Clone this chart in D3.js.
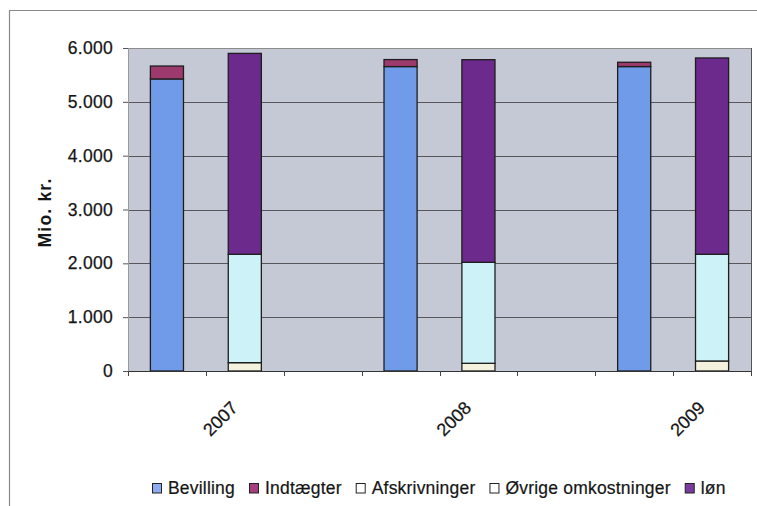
<!DOCTYPE html>
<html>
<head>
<meta charset="utf-8">
<script src="https://cdn.jsdelivr.net/npm/d3@7"></script>
<style>
  html, body { margin: 0; padding: 0; background: #fff; }
  svg { display: block; font-family: "Liberation Sans", Arial, sans-serif; }
</style>
</head>
<body>
<svg id="chart" width="757" height="506"></svg>
<script>
// ---- data ----
const years = ["2007", "2008", "2009"];
const bevilling = [5425, 5655, 5655];
const indtaegter = [240, 130, 80];
const afskrivninger = [155, 143, 186];
const ovrige = [2013, 1876, 1982];
const lon = [3732, 3764, 3647];
const yTicks = [0, 1000, 2000, 3000, 4000, 5000, 6000];
const legendLabels = ["Bevilling", "Indtægter", "Afskrivninger", "Øvrige omkostninger", "løn"];

// ---- styles ----
const colors = {
  bev: "#6f9be8", ind: "#9c3a6e", afs: "#f4f1de", ovr: "#cdf2f8", lon: "#6b2a8c"
};
const legendColors = ["#8fa9f2", "#a33f7c", "#ffffff", "#ffffff", "#7b3b9e"];
const textCol = "#151515";

const svg = d3.select("#chart");
const W = 757, H = 506;
const plot = { left: 128, right: 751, top: 48, bottom: 371 };

// outer frame
svg.append("path")
  .attr("d", `M9.5,${H} V10.5 H${W}`)
  .attr("fill", "none").attr("stroke", "#8a8a8a").attr("stroke-width", 1.2);

// slots: budget bar, expense bar, gap per year
const slots = [];
years.forEach((y, i) => {
  slots.push({ key: y + "-b", year: i, kind: "b" });
  slots.push({ key: y + "-u", year: i, kind: "u" });
  if (i < years.length - 1) slots.push({ key: y + "-g", year: i, kind: "g" });
});

const x = d3.scaleBand().domain(slots.map(d => d.key)).range([plot.left, plot.right]).padding(0);
const y = d3.scaleLinear().domain([0, 6000]).range([plot.bottom, plot.top]);
const barW = x.bandwidth() * 0.425;

// plot background
svg.append("rect")
  .attr("x", plot.left).attr("y", plot.top)
  .attr("width", plot.right - plot.left).attr("height", plot.bottom - plot.top)
  .attr("fill", "#c5c9d6");

// gridlines
svg.append("g").selectAll("line").data(yTicks.filter(t => t > 0))
  .join("line")
  .attr("x1", plot.left).attr("x2", plot.right)
  .attr("y1", d => Math.round(y(d)) + 0.5).attr("y2", d => Math.round(y(d)) + 0.5)
  .attr("stroke", d => d === 6000 ? "#8c8c8c" : "#58585c").attr("stroke-width", 1.1);

// right border of plot area
svg.append("line")
  .attr("x1", plot.right + 0.5).attr("x2", plot.right + 0.5)
  .attr("y1", plot.top).attr("y2", plot.bottom)
  .attr("stroke", "#555").attr("stroke-width", 1);

// stacks
const stackData = [];
slots.forEach(s => {
  const i = s.year;
  if (s.kind === "b") {
    stackData.push({ slot: s.key, y0: 0, y1: bevilling[i], c: colors.bev });
    stackData.push({ slot: s.key, y0: bevilling[i], y1: bevilling[i] + indtaegter[i], c: colors.ind });
  } else if (s.kind === "u") {
    const a = afskrivninger[i], o = ovrige[i], l = lon[i];
    stackData.push({ slot: s.key, y0: 0, y1: a, c: colors.afs });
    stackData.push({ slot: s.key, y0: a, y1: a + o, c: colors.ovr });
    stackData.push({ slot: s.key, y0: a + o, y1: a + o + l, c: colors.lon });
  }
});

svg.append("g").selectAll("rect").data(stackData)
  .join("rect")
  .attr("x", d => x(d.slot) + (x.bandwidth() - barW) / 2)
  .attr("width", barW)
  .attr("y", d => y(d.y1))
  .attr("height", d => y(d.y0) - y(d.y1))
  .attr("fill", d => d.c)
  .attr("stroke", "#1e1e1e").attr("stroke-width", 1.3);

// y axis
const loc = d3.formatLocale({ decimal: ",", thousands: ".", grouping: [3], currency: ["", ""] });
const fmt = loc.format(",");
const yAxis = svg.append("g")
  .attr("transform", `translate(${plot.left},0)`)
  .call(d3.axisLeft(y).tickValues(yTicks).tickFormat(fmt).tickSize(5).tickPadding(10));
yAxis.select(".domain").attr("stroke", "#9a9a9a");
yAxis.selectAll(".tick line").attr("stroke", "#555");
yAxis.selectAll("text")
  .attr("font-size", 17.5).attr("fill", textCol)
  .attr("stroke", textCol).attr("stroke-width", 0.25)
  .attr("letter-spacing", "0.3px")
  .attr("font-family", "'Liberation Sans', Arial, sans-serif");

// x axis line and ticks (slot boundaries)
svg.append("line")
  .attr("x1", plot.left).attr("x2", plot.right + 1)
  .attr("y1", plot.bottom + 0.5).attr("y2", plot.bottom + 0.5)
  .attr("stroke", "#333").attr("stroke-width", 1.2);
const bounds = slots.map(s => x(s.key)).concat([x(slots[slots.length - 1].key) + x.bandwidth()]);
svg.append("g").selectAll("line").data(bounds)
  .join("line")
  .attr("x1", d => Math.round(d) + 0.5).attr("x2", d => Math.round(d) + 0.5)
  .attr("y1", plot.bottom).attr("y2", plot.bottom + 5)
  .attr("stroke", "#444");

// year labels
svg.append("g").selectAll("text").data(slots.filter(s => s.kind === "u"))
  .join("text")
  .attr("transform", d => `translate(${x(d.key) + x.bandwidth() / 2 - 6},${plot.bottom + 38}) rotate(-45)`)
  .attr("text-anchor", "end")
  .attr("font-size", 18).attr("fill", textCol)
  .attr("stroke", textCol).attr("stroke-width", 0.25)
  .text(d => years[d.year]);

// y axis title
svg.append("text")
  .attr("transform", `translate(51,${(plot.top + plot.bottom) / 2 + 3}) rotate(-90)`)
  .attr("text-anchor", "middle")
  .attr("font-size", 17.5).attr("font-weight", "bold").attr("fill", textCol)
  .attr("letter-spacing", "1.2px")
  .text("Mio. kr.");

// legend
const lg = svg.append("g").attr("transform", "translate(152,483)");
let lx = 0;
legendLabels.forEach((lab, i) => {
  lg.append("rect")
    .attr("x", lx + 0.5).attr("y", 0.5).attr("width", 9).attr("height", 9.5)
    .attr("fill", legendColors[i]).attr("stroke", "#222").attr("stroke-width", 1);
  const t = lg.append("text")
    .attr("x", lx + 16).attr("y", 10.5)
    .attr("font-size", 17.5).attr("fill", textCol)
    .attr("stroke", textCol).attr("stroke-width", 0.2)
    .attr("letter-spacing", "0.2px")
    .text(lab);
  lx += 16 + t.node().getComputedTextLength() + 14;
});
</script>
</body>
</html>
